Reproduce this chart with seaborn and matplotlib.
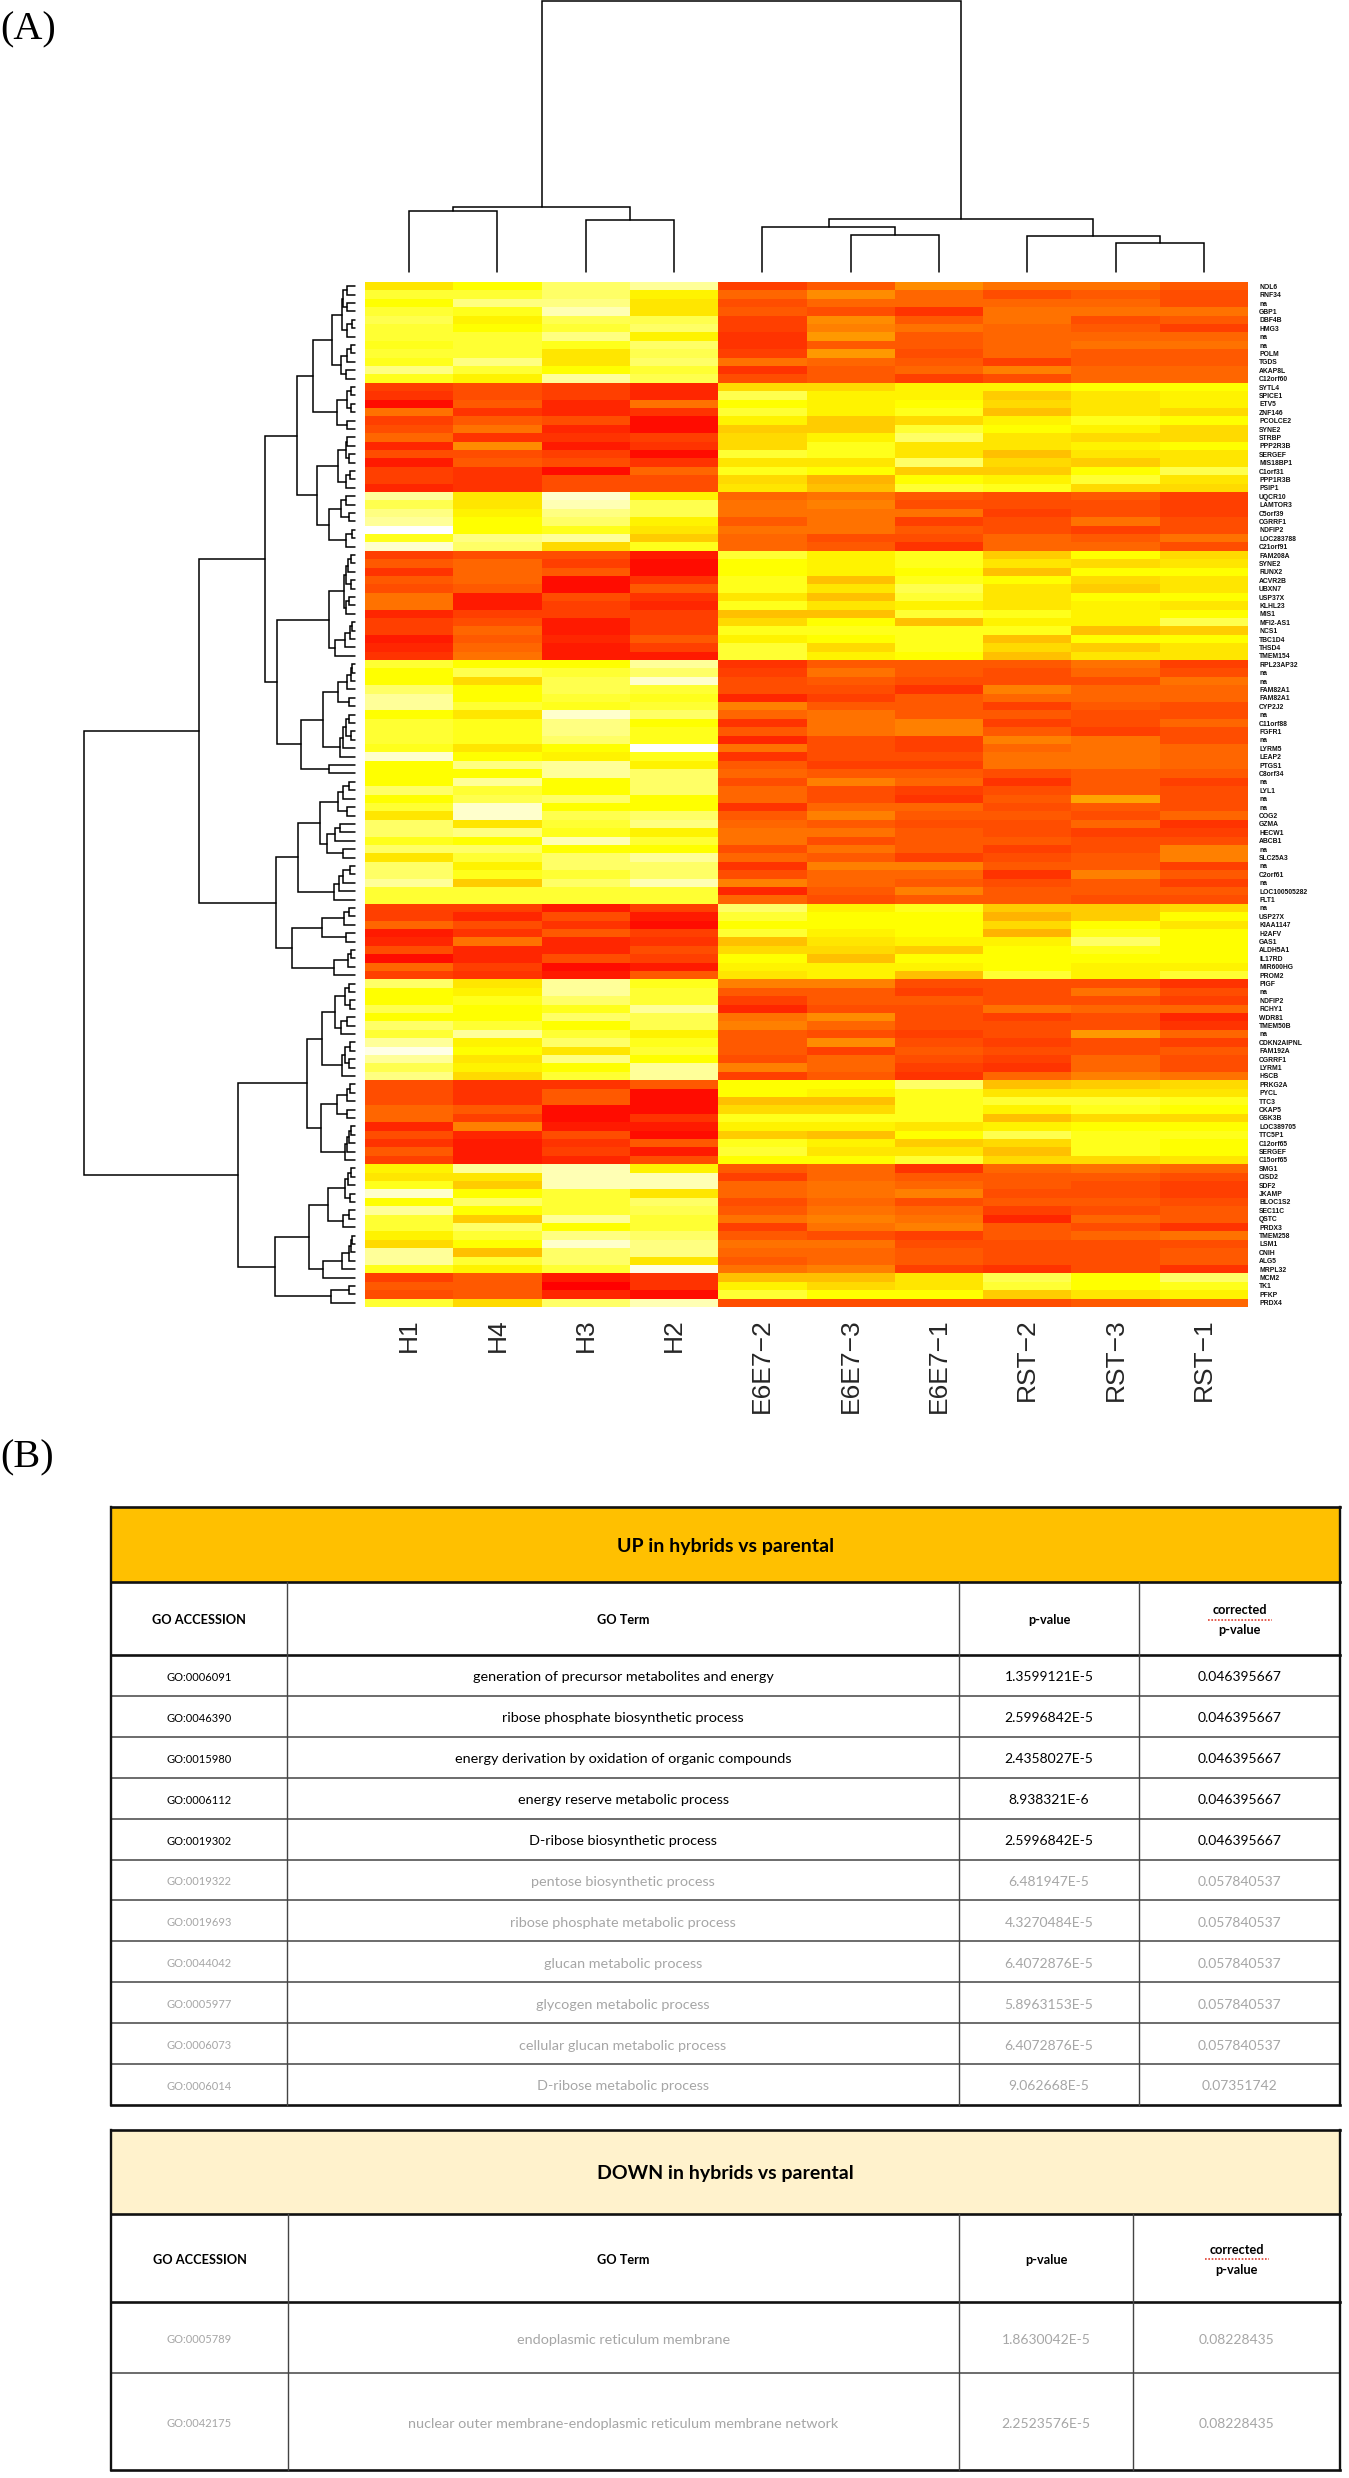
import numpy as np
import pandas as pd
import matplotlib
matplotlib.use("Agg")
import matplotlib.pyplot as plt
from matplotlib.colors import LinearSegmentedColormap
from matplotlib.patches import Rectangle
import seaborn as sns

W, H = 1349, 2478

samples = ["H1", "H4", "H3", "H2", "E6E7\u22122", "E6E7\u22123", "E6E7\u22121", "RST\u22122", "RST\u22123", "RST\u22121"]

genes = ["NOL6", "RNF34", "na", "GBP1", "DBF4B", "HMG3", "na", "na", "POLM", "TGDS", "AKAP8L", "C12orf60",
         "SYTL4", "SPICE1", "ETV5", "ZNF146", "PCOLCE2", "SYNE2", "STRBP", "PPP2R3B", "SERGEF", "MIS18BP1", "C1orf31", "PPP1R3B", "PSIP1",
         "UQCR10", "LAMTOR3", "C5orf39", "CGRRF1", "NDFIP2", "LOC283788", "C21orf91",
         "FAM208A", "SYNE2", "RUNX2", "ACVR2B", "UBXN7", "USP37X", "KLHL23", "MIS1", "MFI2-AS1", "NCS1", "TBC1D4", "THSD4", "TMEM154",
         "RPL23AP32", "na", "na", "FAM82A1", "FAM82A1", "CYP2J2", "na", "C11orf88", "FGFR1", "na", "LYRM5", "LEAP2", "PTGS1", "C8orf34", "na", "LYL1", "na", "na", "COG2", "GZMA", "HECW1", "ABCB1", "na", "SLC25A3", "na", "C2orf61", "na", "LOC100505282", "FLT1",
         "na", "USP27X", "KIAA1147", "H2AFV", "GAS1", "ALDH5A1", "IL17RD", "MIR600HG", "PROM2",
         "PIGF", "na", "NDFIP2", "RCHY1", "WDR81", "TMEM50B", "na", "CDKN2AIPNL", "FAM192A", "CGRRF1", "LYRM1", "HSCB",
         "PRKG2A", "PYCL", "TTC3", "CKAP5", "GSK3B", "LOC389705", "TTC5P1", "C12orf65", "SERGEF", "C15orf65",
         "SMG1", "CISD2", "SDF2", "JKAMP", "BLOC1S2", "SEC11C", "QSTC", "PRDX3", "TMEM258", "LSM1", "CNIH", "ALG5", "MRPL32",
         "MCM2", "TK1", "PFKP", "PRDX4"]

# expression level: 0 red, 5 orange, 10 yellow, 15 white
block_a = [[9,10,12,13,2.5,3.5,5.5,4.5,4.5,3.5],[11,11,12,9.5,4,5.5,4,3,3.5,3],[10,12.5,12.5,9,3,4,4,4,4,3],
           [11,10.5,13.5,9,3.5,3,2,4.5,4.5,4.5],[11.5,9.5,11.5,11.5,2.5,5.5,3.5,4.5,3,3.5],[11,10,11,12,2.5,5,4.5,4,3.5,2.5],
           [11,11,12.5,9.5,2,6,3.5,4,4,4],[10.5,11,10.5,12,2,3.5,3.5,4,4.5,4.5],[11,11,9,11.5,2.5,6,3,4,3.5,3.5],
           [10.5,12.5,9,12,4.5,4,3.5,2.5,3.5,3.5],[12.5,11,10,11,2,3.5,4,5,4,4],[10.5,9.5,13,11.5,3,3.5,2.5,3,4,4]]
block_b = [[2.5,3,2.5,1.5,8.5,8.5,9.5,9.5,10,10],[2,3,2.5,1.5,11.5,9.5,9.5,8,9,9.5],[0.5,3.5,1.5,4.5,10,9.5,10,8.5,9,9.5],
           [4.5,2,1.5,2,11,9.5,10.5,7.5,9,8.5],[2.5,3.5,3,0.5,9.5,8,8.5,9.5,10.5,10],[3,4.5,1.5,0.5,8,8,11,10,9.5,8.5],
           [4,2,2,2.5,8.5,9.5,12,9,8.5,8.5],[1.5,5.5,1,2,8.5,10.5,9,9,9.5,10],[3,3,2.5,0.5,11,10.5,9,7.5,9,9],
           [1,3.5,3,2,9,9,12,8.5,8,9],[2.5,2,0.5,4,10.5,10,8,8,10,11.5],[2.5,2,3,3,8.5,7,10,9.5,11,9],[1.5,2,3,3,9,7.5,11,10.5,8.5,8.5]]
block_c = [[13,9,14,9.5,4,4.5,3.5,3,3.5,2.5],[11.5,9,13.5,11.5,4.5,5,3,3,3,2.5],[12.5,9.5,12.5,11.5,4.5,4.5,4.5,2.5,3,2.5],
           [13,10,12,9.5,3.5,4.5,2.5,3,4.5,3],[15,10,10.5,9,4.5,4.5,3.5,3,2.5,3],[10.5,12.5,13,8,4,3,3,4,3.5,4.5],[14,12,8.5,10.5,4,3.5,2,4,4,3]]
block_d = [[2.5,3,3,1,11,9.5,10.5,8,10,8.5],[3.5,4,2.5,0.5,10,9.5,10.5,9,8.5,9],[2,4,3.5,0.5,10,9.5,10,7.5,10,10],
           [3.5,4,0.5,2,10.5,7.5,10.5,10,8.5,9],[3,3.5,0.5,3.5,10.5,9,11.5,9,8,9],[4.5,1,3,2,9,7.5,11,9,10,10],
           [4.5,1,2.5,1.5,10.5,9,9.5,9,9.5,9],[1.5,2.5,2.5,2.5,7.5,7.5,11,10.5,9.5,10],[2.5,3,1,2.5,8.5,10,7.5,9.5,9.5,11.5],
           [2.5,4,1,2.5,10.5,10.5,10.5,10.5,7.5,8],[1,3.5,1.5,3.5,9.5,10,10.5,7.5,10,10],[1.5,4,1,2.5,11,8.5,10.5,8.5,8,9],[2,4.5,1,1,11,9.5,10,7.5,9,9]]
block_e = [[11,10,10,13,2,3.5,3.5,3.5,4.5,2.5],[10,11.5,11,12,2.5,4.5,3.5,3,4,3],[10,8.5,11.5,14,3,3.5,3,3,3,4.5],
           [12,10,11.5,11,3,3,2,5,4,4],[13,10,11,10.5,1.5,2.5,3.5,4,4,4],[13,11,10.5,11,5,3.5,3.5,2.5,3.5,3],
           [10,9,14,12,4,4.5,3.5,3.5,3,3],[11,10.5,12.5,10,2,4.5,5,2.5,3,4],[11,10.5,12.5,10.5,3.5,4.5,5,3.5,2.5,3],
           [11,10.5,12,10.5,1.5,3,2.5,5,4.5,3],[10.5,9,10,15,4.5,3,2.5,4,4.5,4],[14,10,9.5,10.5,2,3,3,4.5,4.5,4],
           [10,12.5,13,9.5,3.5,2.5,2.5,4.5,4.5,4],[10,10,13,12,4,3.5,3.5,3,3.5,3.5],[10,13,10,12,3,5,4,2,3.5,2.5],
           [12,11,10,12,4,3,2.5,3,3.5,3],[10,11.5,12,10,4,3,2,3.5,6.5,3],[11,14,10,10,2,4,4,3,3.5,3],
           [9,14,11.5,12,3.5,5,3.5,3.5,3,4],[12,9,11,12.5,4,3.5,3,3,4,2],[12,12.5,10.5,9.5,4.5,4.5,3.5,3,2.5,2.5],
           [10.5,10,13.5,11,4.5,3,3.5,3.5,3,3],[12,12,10,10,3,4.5,3.5,2.5,3,5],[9,11,12,13,4,3.5,2.5,3,3.5,5],
           [12,9.5,12,12,2,5,5,3.5,3.5,2.5],[12,10.5,11,12,3,4,4,2,5,3.5],[13,8,12,13.5,5,4,3.5,3,3.5,2.5],
           [11,11,11,11,1.5,3.5,5,3.5,3.5,3.5],[11,11,11,11,4,3,3.5,3.5,3,3]]
block_f = [[2.5,2.5,1,2.5,12,9.5,10.5,8,8,8.5],[2.5,1.5,3,1,11,10,10,7,8,10],[4,3,2,0.5,10,10,10,8.5,10,9],
           [1,2,3.5,2.5,11,9.5,10,7,10.5,10],[1.5,4.5,1.5,2,7.5,9,9.5,9.5,12,10],[3,1.5,1.5,3,8.5,8.5,8,10,10.5,10],
           [0.5,1.5,3,2.5,10,7.5,10,10,10,10],[4,2.5,0.5,1,9.5,9.5,9.5,10,9.5,9.5],[2.5,2,1,3.5,9,9.5,7.5,11,9.5,11]]
block_g = [[12,9,13,10.5,5,5,3,3,3,2],[10,9.5,13,11,3.5,3.5,2.5,3,4.5,3],[10,10.5,12,11,2.5,3.5,3.5,3,3,2.5],
           [11.5,10,10.5,13,1.5,3,3,4.5,4,4],[10,10,12,11.5,4.5,5.5,3,2.5,3,1.5],[12,11,10,11.5,5,4,3,3,3,2],
           [11,13,11,9.5,3.5,3,2.5,3,6,4],[13,9.5,12,10.5,3.5,5.5,3,2.5,3,2.5],[14.5,10,9,11,3.5,2.5,3.5,3,3,3.5],
           [13,9,12.5,10,3,4,3,2.5,4,3],[11.5,9.5,10,13,5,4,2.5,2,4,3],[12.5,8.5,11,13,2.5,3.5,2,4,5,4.5]]
block_h = [[3,2,2,3.5,10,10,12,7.5,8,8.5],[3,2,3.5,0.5,10,9.5,10.5,9,9,9],[3,2,3.5,0.5,7.5,7.5,10.5,11,11,10.5],
           [4,3.5,0.5,0.5,8.5,8.5,10.5,9.5,10.5,10],[4,2.5,0.5,2,10.5,10.5,10.5,7.5,8.5,8.5],[1.5,5,1,1,9.5,9.5,9,9.5,10,10],
           [3,1.5,3,0.5,8,7.5,10,11.5,10.5,10.5],[2,1,2,3.5,10.5,9.5,8,8.5,10.5,10],[3.5,1,2.5,1,11,9,9,7.5,10.5,10],[2.5,1,1.5,3,10,10,11,8.5,8.5,9]]
block_i = [[9.5,13,13.5,9.5,3.5,4,2,4,4.5,4],[9,9,13.5,13.5,2.5,4,3.5,3.5,3.5,3],[10.5,8,13.5,13.5,4,4.5,4,3.5,3,2.5],
           [14,10,11,9,4,4.5,5,3,3,2.5],[10,12,11,12,3,4,3,3.5,3.5,3],[13,10,11,11.5,3.5,4.5,4,2.5,3,3.5],
           [11,8,13,11,4.5,5,4.5,1.5,4,3.5],[11,12,10,11,2.5,4.5,5,3.5,3,2],[9.5,11,12.5,12,3.5,3,2.5,3.5,4,4.5],
           [8.5,10,14,12.5,4.5,4.5,3,3,3,3],[13,7.5,12,12.5,4,4,3.5,3,3,3.5],[13,11,12,9,3.5,4,3.5,3,3,3.5],[10.5,9.5,11,14.5,4.5,5,2.5,2,3,2]]
block_j = [[2.5,3.5,1,2,7.5,7.5,9,11.5,10,12],[3.5,3.5,0,2,9.5,8.5,9,11,10,10.5],[3,3.5,1.5,0.5,11,10,10,8,9,9.5]]
block_k = [[11,8.5,12,13.5,3,3,3,3,3.5,4]]
blocks = [block_a, block_b, block_c, block_d, block_e, block_f, block_g, block_h, block_i, block_j, block_k]

# dendrogram merges: (height, upper/left child, lower/right child); L is a single leaf
L = None
def N(h, a, b):
    return (h, a, b)

tree_a = N(23, N(13, N(12, N(8, L, L), N(8, L, L)), N(8, N(3, L, L), L)), N(14, N(8, N(4, L, L), L), N(9, L, L)))
tree_b1 = N(18, N(8, N(4, L, L), N(4, L, L)), N(8, L, L))
tree_b2 = N(17, N(9, N(8, L, L), N(6, L, L)), N(9, N(5, L, L), L))
tree_c = N(26, N(14, N(9, L, L), N(6, L, L)), N(9, N(3, L, L), L))
tree_d = N(26, N(11, N(9, N(7, N(4, L, L), L), N(4, L, L)), N(9, N(6, L, L), L)), N(20, N(10, N(5, N(3, L, L), L), L), L))
tree_e1 = N(32, N(17, N(8, N(4, N(3, L, L), L), L), N(6, L, L)), N(15, N(12, N(9, N(6, L, L), N(4, L, L)), L), L))
tree_e2 = N(35, N(17, N(12, N(6, L, L), L), N(8, L, L)), N(28, N(20, N(15, L, L), L), N(12, L, L)))
tree_e3 = N(21, N(16, N(12, N(5, L, L), L), L), L)
tree_f = N(63, N(33, N(11, N(6, L, L), L), N(9, L, L)), N(21, N(7, N(4, L, L), L), L))
tree_g = N(33, N(20, N(10, N(6, L, L), N(5, L, L)), N(14, N(8, L, L), L)), N(13, N(10, N(5, L, L), N(6, L, L)), L))
tree_h = N(34, N(18, N(8, N(5, L, L), L), N(8, L, L)), N(10, N(8, N(6, N(4, L, L), L), L), L))
tree_i = N(46, N(27, N(10, N(7, N(4, L, L), L), N(5, L, L)), N(12, N(6, L, L), L)), N(32, N(13, N(6, N(4, N(3, L, L), L), L), L), L))
tree_j = N(24, N(6, L, L), L)
row_tree = N(271,
             N(156,
               N(90,
                 N(58, N(42, tree_a, tree_b1), N(38, tree_b2, tree_c)),
                 N(78, tree_d, N(54, tree_e1, N(26, L, L)))),
               N(79, N(57, tree_e2, tree_e3), tree_f)),
             N(117, N(48, tree_g, tree_h), N(80, tree_i, tree_j)))
col_tree = N(271, N(65, N(61, L, L), N(52, L, L)),
             N(53, N(45, L, N(37, L, L)), N(36, L, N(29, L, L))))

up_acc = ["GO:0006091", "GO:0046390", "GO:0015980", "GO:0006112", "GO:0019302", "GO:0019322", "GO:0019693", "GO:0044042", "GO:0005977", "GO:0006073", "GO:0006014"]
up_term = ["generation of precursor metabolites and energy", "ribose phosphate biosynthetic process",
           "energy derivation by oxidation of organic compounds", "energy reserve metabolic process", "D-ribose biosynthetic process",
           "pentose biosynthetic process", "ribose phosphate metabolic process", "glucan metabolic process", "glycogen metabolic process",
           "cellular glucan metabolic process", "D-ribose metabolic process"]
up_p = ["1.3599121E-5", "2.5996842E-5", "2.4358027E-5", "8.938321E-6", "2.5996842E-5", "6.481947E-5", "4.3270484E-5", "6.4072876E-5", "5.8963153E-5", "6.4072876E-5", "9.062668E-5"]
up_q = ["0.046395667"] * 5 + ["0.057840537"] * 5 + ["0.07351742"]
up_strong = 5
down_acc = ["GO:0005789", "GO:0042175"]
down_term = ["endoplasmic reticulum membrane", "nuclear outer membrane-endoplasmic reticulum membrane network"]
down_p = ["1.8630042E-5", "2.2523576E-5"]
down_q = ["0.08228435", "0.08228435"]
down_strong = 0

values = np.array([r for b in blocks for r in b], dtype=float)
data = pd.DataFrame(values, index=genes, columns=samples)

sns.set_theme(style="white")
plt.rcParams["font.family"] = ["Liberation Sans", "DejaVu Sans"]
fig = plt.figure(figsize=(W / 100, H / 100), dpi=100, facecolor="white")

def box(l, t, r, b):
    return fig.add_axes([l / W, 1 - b / H, (r - l) / W, (b - t) / H])

cmap = LinearSegmentedColormap.from_list("heat", [(0, "#FF0000"), (10 / 15, "#FFFF00"), (1, "#FFFFFF")])
ax = box(365, 282, 1248, 1307)
sns.heatmap(data, ax=ax, cmap=cmap, vmin=0, vmax=15, cbar=False, xticklabels=True, yticklabels=True)
ax.yaxis.tick_right()
ax.tick_params(axis="both", length=0)
ax.tick_params(axis="y", labelsize=4.9, pad=8, labelrotation=0)
ax.tick_params(axis="x", labelsize=19, pad=8, labelrotation=90)
ax.set_xlabel("")
ax.set_ylabel("")
for t in ax.get_yticklabels():
    t.set_fontweight("bold")
    t.set_color("#111111")

def walk(node, pos, segs):
    if node is None:
        p = pos[0]
        pos[0] += 1
        return p + 0.5, 0
    h, a, b = node
    pa, ha = walk(a, pos, segs)
    pb, hb = walk(b, pos, segs)
    segs.append(((pa, ha), (pa, h), (pb, h), (pb, hb)))
    return (pa + pb) / 2, h

row_ax = box(60, 282, 355, 1307)
segs = []
pos = [0]
walk(row_tree, pos, segs)
for s in segs:
    row_ax.plot([q[1] for q in s], [q[0] for q in s], color="black", lw=1.1, solid_joinstyle="miter", clip_on=False)
row_ax.set_xlim(295, 0)
row_ax.set_ylim(len(genes), 0)
row_ax.axis("off")

col_ax = box(365, 0, 1248, 272)
segs = []
pos = [0]
walk(col_tree, pos, segs)
for s in segs:
    col_ax.plot([q[0] for q in s], [q[1] for q in s], color="black", lw=1.1, solid_joinstyle="miter", clip_on=False)
col_ax.set_xlim(0, len(samples))
col_ax.set_ylim(0, 272)
col_ax.axis("off")

page = fig.add_axes([0, 0, 1, 1], zorder=-1)
page.set_xlim(0, W)
page.set_ylim(H, 0)
page.axis("off")
page.text(0, 30, "(A)", family="Liberation Serif", fontsize=29, va="center", ha="left", color="black")
page.text(0, 1458, "(B)", family="Liberation Serif", fontsize=29, va="center", ha="left", color="black")

def table(title, fill, xs, ys, acc, term, p, q, strong):
    l, r = xs[0], xs[-1]
    page.add_patch(Rectangle((l, ys[0]), r - l, ys[1] - ys[0], facecolor=fill, edgecolor="none"))
    page.text((l + r) / 2, (ys[0] + ys[1]) / 2 + 2, title, family="Lato", fontweight="bold", fontsize=14, ha="center", va="center", color="black")
    hy = (ys[1] + ys[2]) / 2 + 2
    cx = [(xs[i] + xs[i + 1]) / 2 for i in range(4)]
    for x, t in zip(cx[:3], ["GO ACCESSION", "GO Term", "p-value"]):
        page.text(x, hy, t, family="Lato", fontweight="bold", fontsize=9.2, ha="center", va="center", color="black")
    page.text(cx[3], hy - 10, "corrected", family="Lato", fontweight="bold", fontsize=9.2, ha="center", va="center", color="black")
    page.text(cx[3], hy + 10, "p-value", family="Lato", fontweight="bold", fontsize=9.2, ha="center", va="center", color="black")
    page.plot([cx[3] - 32, cx[3] + 32], [hy - 1, hy - 1], color="#e04030", lw=1.2, ls=(0, (1, 1)))
    sizes = [8, 10.4, 10, 10]
    for i in range(len(acc)):
        y = (ys[2 + i] + ys[3 + i]) / 2 + 2
        c = "black" if i < strong else "#a6a6a6"
        for x, t, fs in zip(cx, [acc[i], term[i], p[i], q[i]], sizes):
            page.text(x, y, t, family="Lato", fontsize=fs, ha="center", va="center", color=c)
    for k, y in enumerate(ys):
        thick = k in (0, 1, 2, len(ys) - 1)
        page.plot([l, r], [y, y], color="#111111" if thick else "#444444", lw=1.9 if thick else 1.1, solid_capstyle="projecting")
    for k, x in enumerate(xs):
        edge = k in (0, len(xs) - 1)
        page.plot([x, x], [ys[1] if not edge else ys[0], ys[-1]], color="#111111" if edge else "#444444", lw=1.7 if edge else 1.0, solid_capstyle="projecting")

table("UP in hybrids vs parental", "#FFC000", [111, 287, 959, 1139, 1340],
      [1507, 1582, 1655] + [1655 + 40.9 * (i + 1) for i in range(11)], up_acc, up_term, up_p, up_q, up_strong)
table("DOWN in hybrids vs parental", "#FFF2CC", [111, 288, 959, 1133, 1340],
      [2130, 2214, 2302, 2373, 2470], down_acc, down_term, down_p, down_q, down_strong)

fig.savefig("out.png", dpi=100, facecolor="white")
